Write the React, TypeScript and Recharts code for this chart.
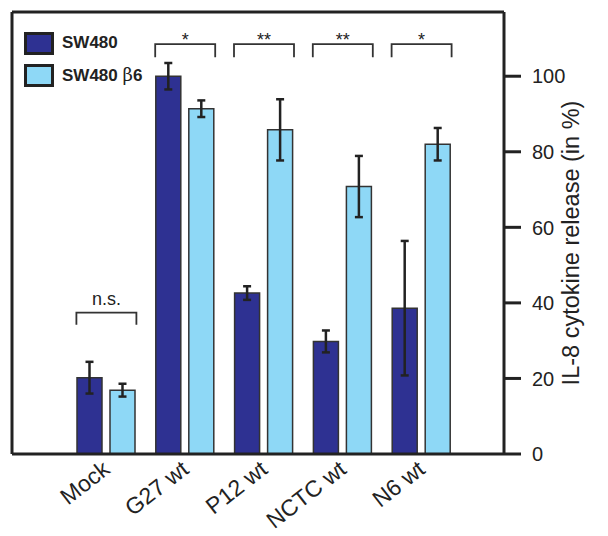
import React from 'react';
import { BarChart, Bar, XAxis, YAxis, ErrorBar, ReferenceLine, Legend } from 'recharts';

const strains = ['Mock', 'G27 wt', 'P12 wt', 'NCTC wt', 'N6 wt'];
const sw480 = [20.2, 100, 42.6, 29.8, 38.6];
const sw480Err = [4.2, 3.5, 1.8, 2.9, 17.8];
const sw480b6 = [16.9, 91.4, 85.8, 70.8, 82];
const sw480b6Err = [1.7, 2.2, 8.1, 8.1, 4.3];
const sigLabels = ['n.s.', '*', '**', '**', '*'];
const sigTop = [37.4, 108.5, 108.5, 108.5, 108.5];
const sigBottom = [34.2, 105, 105, 105, 105];
const yTicks = [0, 20, 40, 60, 80, 100];

const DARK = '#2e3192';
const LIGHT = '#8ed8f6';
const INK = '#222222';
const FONT = '"Liberation Sans", Arial, Helvetica, sans-serif';

const data = strains.map((name, i) => ({
  name,
  sw480: sw480[i],
  sw480Err: sw480Err[i],
  sw480b6: sw480b6[i],
  sw480b6Err: sw480b6Err[i],
}));

const AngledTick = ({ x, y, payload }: any) => (
  <text
    x={x + 5}
    y={y + 18}
    transform={`rotate(-38, ${x + 5}, ${y + 18})`}
    textAnchor="end"
    fontFamily={FONT}
    fontSize={23}
    fill={INK}
  >
    {payload.value}
  </text>
);

// right axis tick: recharts places x at axis + 6 + 2 with the default sizes
const RightTick = ({ x, y, payload }: any) => {
  const ax = x - 8;
  return (
    <g>
      <line x1={ax} x2={ax + 17} y1={y} y2={y} stroke={INK} strokeWidth={3} />
      <text x={ax + 28} y={y} dy="0.36em" textAnchor="start" fontFamily={FONT} fontSize={20} fill={INK}>
        {payload.value}
      </text>
    </g>
  );
};

// significance bracket drawn around the segment's centre
const bracket = (label: string) => (props: any) => {
  const { x1, y1, y2 } = props;
  const half = 30;
  const star = label.startsWith('*');
  return (
    <g>
      <path
        d={`M${x1 - half},${y2} L${x1 - half},${y1} L${x1 + half},${y1} L${x1 + half},${y2}`}
        fill="none"
        stroke="#333"
        strokeWidth={1.8}
      />
      <text
        x={x1}
        y={star ? y1 + 2 : y1 - 8}
        textAnchor="middle"
        fontFamily={FONT}
        fontSize={18}
        fill={INK}
      >
        {label}
      </text>
    </g>
  );
};

const LegendBox = () => (
  <div style={{ fontFamily: FONT, fontWeight: 'bold', fontSize: 17, color: INK }}>
    {[
      { color: DARK, text: 'SW480', beta: false },
      { color: LIGHT, text: 'SW480 ', beta: true },
    ].map((item, i) => (
      <div key={i} style={{ display: 'flex', alignItems: 'center', height: 24, marginBottom: 8 }}>
        <div
          style={{
            width: 24,
            height: 17,
            background: item.color,
            border: `3px solid ${INK}`,
            marginRight: 8,
          }}
        />
        <span style={{ whiteSpace: 'pre' }}>
          {item.text}
          {item.beta && <span style={{ fontWeight: 'normal', fontFamily: '"DejaVu Serif", serif', fontSize: 18 }}>β</span>}
          {item.beta && '6'}
        </span>
      </div>
    ))}
  </div>
);

const YLabel = ({ viewBox }: any) => {
  const cx = viewBox.x + 67;
  const cy = viewBox.y + viewBox.height / 2 + 10;
  return (
    <text
      x={cx}
      y={cy}
      transform={`rotate(-90, ${cx}, ${cy})`}
      textAnchor="middle"
      dominantBaseline="central"
      fontFamily={FONT}
      fontSize={23.5}
      fill={INK}
    >
      IL-8 cytokine release (in %)
    </text>
  );
};

export default function App() {
  return (
    <div style={{ width: 600, height: 528 }}>
      <BarChart
        width={600}
        height={528}
        data={data}
        margin={{ top: 3, right: 44, bottom: 0, left: 3 }}
        barSize={25}
        barGap={8}
      >
        <XAxis
          dataKey="name"
          xAxisId="b"
          height={82}
          padding={{ left: 55, right: 43 }}
          axisLine={{ stroke: INK, strokeWidth: 3 }}
          tickLine={false}
          tickSize={0}
          tickMargin={0}
          tick={<AngledTick />}
          interval={0}
        />
        <XAxis
          dataKey="name"
          xAxisId="t"
          orientation="top"
          height={1}
          tick={false}
          tickLine={false}
          axisLine={{ stroke: INK, strokeWidth: 3 }}
        />
        <YAxis
          yAxisId="r"
          orientation="right"
          width={60}
          domain={[0, 117]}
          ticks={yTicks}
          axisLine={{ stroke: INK, strokeWidth: 3 }}
          tickLine={false}
          tickSize={6}
          tickMargin={2}
          tick={<RightTick />}
          label={<YLabel />}
        />
        <YAxis
          yAxisId="l"
          orientation="left"
          width={1}
          domain={[0, 117]}
          tick={false}
          tickLine={false}
          axisLine={{ stroke: INK, strokeWidth: 3 }}
        />
        <Legend
          layout="vertical"
          align="center"
          verticalAlign="middle"
          content={<LegendBox />}
          wrapperStyle={{ left: 16, top: 23, width: 160, height: 70 }}
        />
        <Bar
          dataKey="sw480"
          xAxisId="b"
          yAxisId="r"
          fill={DARK}
          stroke="#333"
          strokeWidth={1.5}
          isAnimationActive={false}
        >
          <ErrorBar dataKey="sw480Err" width={4} stroke={INK} strokeWidth={2.5} isAnimationActive={false} />
        </Bar>
        <Bar
          dataKey="sw480b6"
          xAxisId="b"
          yAxisId="r"
          fill={LIGHT}
          stroke="#333"
          strokeWidth={1.5}
          isAnimationActive={false}
        >
          <ErrorBar dataKey="sw480b6Err" width={4} stroke={INK} strokeWidth={2.5} isAnimationActive={false} />
        </Bar>
        {strains.map((s, i) => (
          <ReferenceLine
            key={s}
            xAxisId="b"
            yAxisId="r"
            segment={[
              { x: s, y: sigTop[i] },
              { x: s, y: sigBottom[i] },
            ]}
            shape={bracket(sigLabels[i])}
          />
        ))}
      </BarChart>
    </div>
  );
}
